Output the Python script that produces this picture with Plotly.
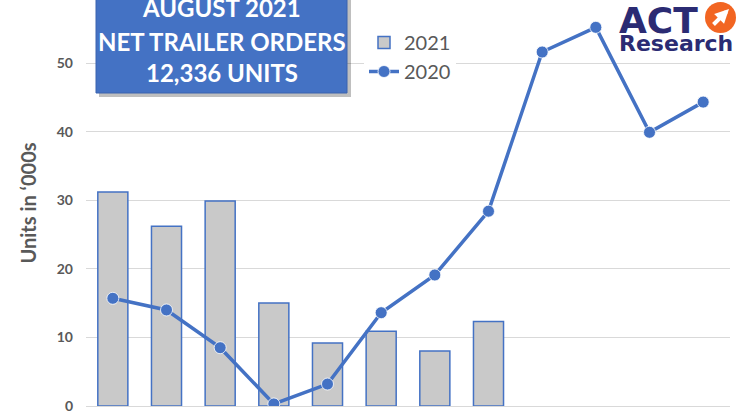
import plotly.graph_objects as go

months = ["Jan", "Feb", "Mar", "Apr", "May", "Jun", "Jul", "Aug", "Sep", "Oct", "Nov", "Dec"]
orders_2021 = [31.2, 26.2, 29.9, 15.0, 9.2, 10.9, 8.0, 12.3]
orders_2020 = [15.7, 14.0, 8.5, 0.3, 3.2, 13.6, 19.1, 28.4, 51.6, 55.2, 39.9, 44.3]
y_ticks = [0, 10, 20, 30, 40, 50]

BLUE = "#4472C4"
GRAY_TXT = "#595959"
FONT = "Lato"

# plot area in pixels (for placing overlays)
L, R, T, B = 86, 730, 0, 406
W, H = R - L, B - T
def px(x):
    return (x - L) / W
def py(y):
    return (B - y) / H

fig = go.Figure()
fig.add_trace(go.Bar(
    x=months[:len(orders_2021)], y=orders_2021, name="2021",
    marker=dict(color="#C9C9C9", line=dict(color=BLUE, width=1.5)),
))
fig.add_trace(go.Scatter(
    x=months, y=orders_2020, name="2020", mode="lines+markers",
    line=dict(color=BLUE, width=3.5),
    marker=dict(color=BLUE, size=12, line=dict(color="white", width=0.8)),
))

shapes = [
    # title box shadow
    dict(type="rect", xref="paper", yref="paper", x0=px(99), x1=px(351), y0=py(97), y1=py(-10),
         fillcolor="rgba(0,0,0,0.25)", line=dict(width=0), layer="above"),
    # title box
    dict(type="rect", xref="paper", yref="paper", x0=px(96), x1=px(347), y0=py(93), y1=py(-10),
         fillcolor=BLUE, line=dict(color="#3A63AE", width=1), layer="above"),
    # logo circle
    dict(type="circle", xref="paper", yref="paper", x0=px(705), x1=px(736), y0=py(33), y1=py(2),
         fillcolor="#F26522", line=dict(width=0), layer="above"),
]

title_lines = [("AUGUST 2021", 8), ("NET TRAILER ORDERS", 41), ("12,336 UNITS", 73)]
annotations = []
for txt, yc in title_lines:
    annotations.append(dict(text=f"<b>{txt}</b>", xref="paper", yref="paper",
                            x=px(221.5), y=py(yc), xanchor="center", yanchor="middle",
                            showarrow=False, font=dict(family=FONT, size=24, color="white")))

annotations += [
    dict(text="<b>ACT</b>", xref="paper", yref="paper", x=px(617), y=py(20),
         xanchor="left", yanchor="middle", showarrow=False,
         font=dict(family="DejaVu Sans", size=36, color="#2B2B73")),
    dict(text="<b>Research</b>", xref="paper", yref="paper", x=px(617), y=py(43),
         xanchor="left", yanchor="middle", showarrow=False,
         font=dict(family="DejaVu Sans", size=22, color="#2B2B73")),
    dict(text="", xref="paper", yref="paper", x=px(729), y=py(9), ax=-17, ay=17,
         showarrow=True, arrowcolor="white", arrowwidth=4, arrowhead=2, arrowsize=0.7),
]

fig.update_layout(
    width=737, height=415,
    margin=dict(l=L, r=737 - R, t=T, b=415 - B),
    paper_bgcolor="white", plot_bgcolor="white",
    bargap=0.44,
    showlegend=True,
    legend=dict(x=px(364), y=py(23), xanchor="left", yanchor="top",
                bgcolor="white", font=dict(family=FONT, size=20, color=GRAY_TXT),
                tracegroupgap=0, itemwidth=30),
    xaxis=dict(showticklabels=False, showgrid=False, showline=True, automargin=False,
               linecolor="#D9D9D9", linewidth=1, ticks="", range=[-0.5, 11.5]),
    yaxis=dict(range=[0, B / 6.86], tickvals=y_ticks, showgrid=True, gridcolor="#D9D9D9",
               gridwidth=1, zeroline=False, showline=False, ticks="", automargin=False,
               ticklabelstandoff=12,
               tickfont=dict(family=FONT, size=14, color=GRAY_TXT, weight="bold"),
               title=dict(text="<b>Units in ‘000s</b>", standoff=14,
                          font=dict(family=FONT, size=20, color=GRAY_TXT))),
    shapes=shapes, annotations=annotations,
)

fig.write_html(
    "out.html",
    config={"displayModeBar": False},
    post_script="document.body.style.margin='0';document.body.style.overflow='hidden';",
)
